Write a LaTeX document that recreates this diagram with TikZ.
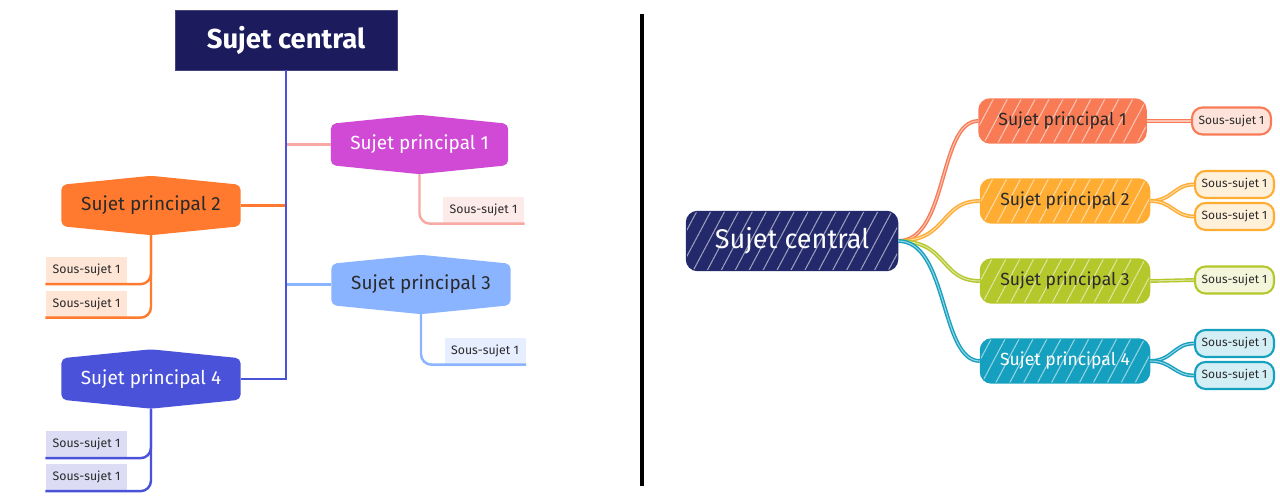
\documentclass[tikz,border=0pt]{standalone}
\usepackage{fontspec}
\setmainfont{Fira Sans}
\usetikzlibrary{calc,backgrounds,patterns.meta}
\definecolor{nuit}{HTML}{1C1B5E}
\definecolor{bleu}{HTML}{4A52DA}
\definecolor{mauve}{HTML}{D04AD6}
\definecolor{rose}{HTML}{F8A9A4}
\definecolor{rosec}{HTML}{FDEBE9}
\definecolor{orangeL}{HTML}{FF7A2F}
\definecolor{orangec}{HTML}{FFE5D5}
\definecolor{ciel}{HTML}{8AB4FF}
\definecolor{cielc}{HTML}{E7EEFF}
\definecolor{lavande}{HTML}{DCDCF5}
\definecolor{marine}{HTML}{23296A}
\definecolor{corail}{HTML}{F97B56}
\definecolor{corailc}{HTML}{FDE3DA}
\definecolor{ambre}{HTML}{FFAC33}
\definecolor{ambrec}{HTML}{FFF0DA}
\definecolor{anis}{HTML}{B4C72B}
\definecolor{anisc}{HTML}{F3F6DB}
\definecolor{canard}{HTML}{15A0BF}
\definecolor{canardc}{HTML}{D3EEF5}
\definecolor{encre}{HTML}{2A2A2A}
\tikzset{
  lien/.style={line width=0.7pt},
  courbe/.style={draw=#1,line width=0.4pt,double=#1!45!white,double distance=0.3pt},
  central/.style={minimum width=2.22cm,minimum height=0.60cm,inner sep=0pt,fill=nuit,draw=nuit!82!white,line width=0.2pt,text=white,font=\fontsize{7.8}{9}\selectfont\bfseries},
  sujet/.style={minimum width=1.78cm,minimum height=0.40cm,inner sep=0pt,font=\fontsize{5.4}{6}\selectfont},
  sous/.style={minimum width=0.81cm,minimum height=0.26cm,inner sep=0pt,text=encre,font=\fontsize{3.5}{4}\selectfont},
  croquis/.style={fill=#1,draw=#1,rounded corners=3pt,line width=0.7pt,
    postaction={pattern={Lines[angle=62,distance=3.5pt,line width=0.3pt]},pattern color=#1!45!white}},
  centralr/.style={croquis=marine,text=white,minimum width=2.10cm,minimum height=0.58cm,inner sep=0pt,font=\fontsize{7.7}{9}\selectfont},
  sujetr/.style={croquis=#1,minimum width=1.68cm,minimum height=0.43cm,inner sep=0pt,font=\fontsize{5}{6}\selectfont},
  sousr/.style={draw=#1,line width=0.6pt,rounded corners=3pt,minimum width=0.79cm,minimum height=0.27cm,inner sep=0pt,text=encre,font=\fontsize{3.4}{4}\selectfont},
}
\newcommand{\hexa}[2]{%
  \fill[#2,rounded corners=1.5pt] (#1.north west) -- ($(#1.north)+(0,0.09)$) -- (#1.north east)
    -- (#1.south east) -- ($(#1.south)+(0,-0.09)$) -- (#1.south west) -- cycle;
  \coordinate (#1-bas) at ($(#1.south)+(0,-0.09)$);}

\begin{document}
\begin{tikzpicture}
  \useasboundingbox (0,0) rectangle (12.8,5.0);
  % gauche : organigramme
  \node[central] (cg) at (2.86,4.60) {Sujet central};
  \node[sujet,text=white,minimum width=1.76cm] (p1g) at (4.195,3.555) {Sujet principal 1};
  \node[sujet,text=encre] (p2g) at (1.51,2.945) {Sujet principal 2};
  \node[sujet,text=encre] (p3g) at (4.21,2.155) {Sujet principal 3};
  \node[sujet,text=white] (p4g) at (1.51,1.21) {Sujet principal 4};
  \begin{pgfonlayer}{background}
    \hexa{p1g}{mauve} \hexa{p2g}{orangeL} \hexa{p3g}{ciel} \hexa{p4g}{bleu}
  \end{pgfonlayer}
  \node[sous,fill=rosec] (s1g) at (4.835,2.90) {Sous-sujet 1};
  \node[sous,fill=orangec] (s21g) at (0.865,2.295) {Sous-sujet 1};
  \node[sous,fill=orangec] (s22g) at (0.865,1.96) {Sous-sujet 1};
  \node[sous,fill=cielc] (s3g) at (4.85,1.49) {Sous-sujet 1};
  \node[sous,fill=lavande] (s41g) at (0.865,0.555) {Sous-sujet 1};
  \node[sous,fill=lavande] (s42g) at (0.865,0.225) {Sous-sujet 1};
  \draw[lien,rose] (p1g.west) -- (p1g.west -| cg.south);
  \draw[lien,orangeL] (p2g.east) -- (p2g.east -| cg.south);
  \draw[lien,ciel] (p3g.west) -- (p3g.west -| cg.south);
  \draw[lien,bleu] (cg.south) |- (p4g.east);
  \draw[lien,rose,rounded corners=3pt] (p1g-bas) |- (s1g.south east);
  \draw[lien,orangeL,rounded corners=3pt] (p2g-bas) |- (s21g.south west);
  \draw[lien,orangeL,rounded corners=3pt] (p2g-bas) |- (s22g.south west);
  \draw[lien,ciel,rounded corners=3pt] (p3g-bas) |- (s3g.south east);
  \draw[lien,bleu,rounded corners=3pt] (p4g-bas) |- (s41g.south west);
  \draw[lien,bleu,rounded corners=3pt] (p4g-bas) |- (s42g.south west);
  % separation
  \draw[black,line width=1.15pt] (6.42,4.86) -- (6.42,0.14);
  % droite : carte mentale
  \node[centralr] (cd) at (7.92,2.59) {Sujet central};
  \node[sujetr=corail,text=encre,minimum width=1.66cm] (p1d) at (10.625,3.79) {Sujet principal 1};
  \node[sujetr=ambre,text=encre] (p2d) at (10.65,2.99) {Sujet principal 2};
  \node[sujetr=anis,text=encre] (p3d) at (10.65,2.19) {Sujet principal 3};
  \node[sujetr=canard,text=white] (p4d) at (10.65,1.39) {Sujet principal 4};
  \node[sousr=corail,fill=corailc] (s1d) at (12.315,3.79) {Sous-sujet 1};
  \node[sousr=ambre,fill=ambrec] (s21d) at (12.345,3.155) {Sous-sujet 1};
  \node[sousr=ambre,fill=ambrec] (s22d) at (12.345,2.835) {Sous-sujet 1};
  \node[sousr=anis,fill=anisc] (s3d) at (12.345,2.20) {Sous-sujet 1};
  \node[sousr=canard,fill=canardc] (s41d) at (12.345,1.565) {Sous-sujet 1};
  \node[sousr=canard,fill=canardc] (s42d) at (12.345,1.245) {Sous-sujet 1};
  \draw[courbe=corail] (cd.east) .. controls +(0.5,0) and +(-0.4,0) .. (p1d.west);
  \draw[courbe=ambre] (cd.east) .. controls +(0.5,0) and +(-0.4,0) .. (p2d.west);
  \draw[courbe=anis] (cd.east) .. controls +(0.5,0) and +(-0.4,0) .. (p3d.west);
  \draw[courbe=canard] (cd.east) .. controls +(0.5,0) and +(-0.4,0) .. (p4d.west);
  \draw[courbe=corail] (p1d.east) -- (s1d.west);
  \draw[courbe=ambre] (p2d.east) .. controls +(0.22,0) and +(-0.2,0) .. (s21d.west);
  \draw[courbe=ambre] (p2d.east) .. controls +(0.22,0) and +(-0.2,0) .. (s22d.west);
  \draw[courbe=anis] (p3d.east) -- (s3d.west);
  \draw[courbe=canard] (p4d.east) .. controls +(0.22,0) and +(-0.2,0) .. (s41d.west);
  \draw[courbe=canard] (p4d.east) .. controls +(0.22,0) and +(-0.2,0) .. (s42d.west);
\end{tikzpicture}
\end{document}
